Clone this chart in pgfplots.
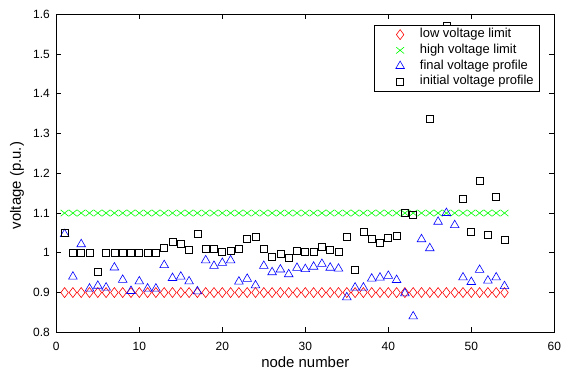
\documentclass[border=0pt]{standalone}
\usepackage{fontspec}
\setmainfont{Liberation Sans}
\usepackage{pgfplots}
\pgfplotsset{compat=1.18}
\pgfplotsset{myleg/.style={legend image code/.code={\path (-21.5bp,0bp) (17.5bp,0bp); \draw[##1] plot coordinates {(0bp,0bp)};}}}
\begin{document}
\begin{tikzpicture}
\useasboundingbox (-56.3bp,-38.7bp) rectangle (504.7bp,332.3bp);
\begin{axis}[
  at={(0,0)}, anchor=south west,
  scale only axis, width=498bp, height=318bp,
  xmin=0, xmax=60, ymin=0.8, ymax=1.6,
  xtick={0,10,20,30,40,50,60},
  ytick={0.8,0.9,1,1.1,1.2,1.3,1.4,1.5,1.6},
  yticklabels={0.8,0.9,1,1.1,1.2,1.3,1.4,1.5,1.6},
  tick align=inside, major tick length=5bp,
  axis line style={line width=0.6bp},
  every tick/.style={line width=0.6bp, black},
  /pgf/number format/assume math mode=true,
  ticklabel style={font=\fontsize{12}{14}\selectfont},
  yticklabel style={xshift=-3bp},
  xticklabel style={yshift=-6bp},
  xlabel={node number}, ylabel={voltage (p.u.)},
  label style={font=\fontsize{15}{17}\selectfont},
  xlabel style={at={(axis description cs:0.5,-0.1113)}, anchor=base},
  ylabel style={at={(axis description cs:-0.0709,0.4616)}, anchor=base, rotate=0},
  legend style={at={(0.9713,0.9664)}, anchor=north east, font=\fontsize{13}{15}\selectfont,
    draw=black, line width=0.6bp, inner xsep=4bp, inner ysep=1.5bp,
    nodes={inner ysep=1.6bp, text height=9.5bp, text depth=3bp}},
  legend cell align=left,
]
\addplot[only marks, myleg, mark=diamond, mark size=5bp, red, line width=0.6bp] coordinates {
(1,0.9)(2,0.9)(3,0.9)(4,0.9)(5,0.9)(6,0.9)(7,0.9)(8,0.9)(9,0.9)(10,0.9)
(11,0.9)(12,0.9)(13,0.9)(14,0.9)(15,0.9)(16,0.9)(17,0.9)(18,0.9)(19,0.9)(20,0.9)
(21,0.9)(22,0.9)(23,0.9)(24,0.9)(25,0.9)(26,0.9)(27,0.9)(28,0.9)(29,0.9)(30,0.9)
(31,0.9)(32,0.9)(33,0.9)(34,0.9)(35,0.9)(36,0.9)(37,0.9)(38,0.9)(39,0.9)(40,0.9)
(41,0.9)(42,0.9)(43,0.9)(44,0.9)(45,0.9)(46,0.9)(47,0.9)(48,0.9)(49,0.9)(50,0.9)
(51,0.9)(52,0.9)(53,0.9)(54,0.9)};
\addlegendentry{low voltage limit}
\addplot[only marks, myleg, mark=x, mark size=4.5bp, mark options={xscale=1.25}, green, line width=0.6bp] coordinates {
(1,1.1)(2,1.1)(3,1.1)(4,1.1)(5,1.1)(6,1.1)(7,1.1)(8,1.1)(9,1.1)(10,1.1)
(11,1.1)(12,1.1)(13,1.1)(14,1.1)(15,1.1)(16,1.1)(17,1.1)(18,1.1)(19,1.1)(20,1.1)
(21,1.1)(22,1.1)(23,1.1)(24,1.1)(25,1.1)(26,1.1)(27,1.1)(28,1.1)(29,1.1)(30,1.1)
(31,1.1)(32,1.1)(33,1.1)(34,1.1)(35,1.1)(36,1.1)(37,1.1)(38,1.1)(39,1.1)(40,1.1)
(41,1.1)(42,1.1)(43,1.1)(44,1.1)(45,1.1)(46,1.1)(47,1.1)(48,1.1)(49,1.1)(50,1.1)
(51,1.1)(52,1.1)(53,1.1)(54,1.1)};
\addlegendentry{high voltage limit}
\addplot[only marks, myleg, mark=triangle, mark size=5bp, blue, line width=0.6bp] coordinates {
(1,1.047)(2,0.94)(3,1.0215)(4,0.91)(5,0.917)(6,0.9125)(7,0.963)(8,0.932)(9,0.904)(10,0.928)
(11,0.91)(12,0.91)(13,0.969)(14,0.9365)(15,0.94)(16,0.928)(17,0.903)(18,0.981)(19,0.967)(20,0.9745)
(21,0.981)(22,0.9275)(23,0.9345)(24,0.918)(25,0.967)(26,0.951)(27,0.958)(28,0.946)(29,0.962)(30,0.959)
(31,0.965)(32,0.972)(33,0.9625)(34,0.96)(35,0.888)(36,0.9125)(37,0.9125)(38,0.935)(39,0.9375)(40,0.942)
(41,0.9315)(42,0.898)(43,0.84)(44,1.034)(45,1.0115)(46,1.078)(47,1.1)(48,1.0695)(49,0.938)(50,0.9265)
(51,0.957)(52,0.93)(53,0.938)(54,0.916)};
\addlegendentry{final voltage profile}
\addplot[only marks, myleg, mark=square, mark size=3.5bp, black, line width=0.7bp] coordinates {
(1,1.05)(2,1.0)(3,1.0)(4,1.0)(5,0.951)(6,1.0)(7,1.0)(8,1.0)(9,1.0)(10,1.0)
(11,1.0)(12,1.0)(13,1.0115)(14,1.028)(15,1.0225)(16,1.0065)(17,1.048)(18,1.011)(19,1.011)(20,1.003)
(21,1.005)(22,1.009)(23,1.034)(24,1.041)(25,1.009)(26,0.99)(27,0.9975)(28,0.9875)(29,1.005)(30,1.0025)
(31,1.0025)(32,1.016)(33,1.008)(34,1.0025)(35,1.039)(36,0.956)(37,1.053)(38,1.034)(39,1.025)(40,1.0365)
(41,1.043)(42,1.1015)(43,1.096)(45,1.3365)(47,1.571)(49,1.1365)(50,1.053)
(51,1.181)(52,1.046)(53,1.141)(54,1.0325)};
\addlegendentry{initial voltage profile}
\end{axis}
\end{tikzpicture}
\end{document}
